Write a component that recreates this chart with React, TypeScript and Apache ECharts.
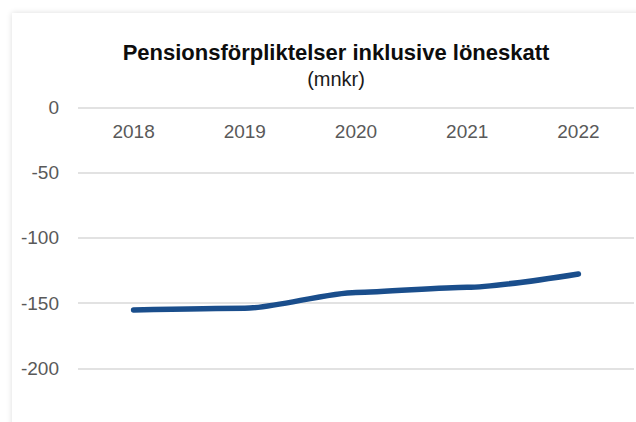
import React, { useEffect, useRef } from "react";
import * as echarts from "echarts";

const years = ["2018", "2019", "2020", "2021", "2022"];
const pensionValues = [-155.3, -154, -141.8, -137.9, -127.7];
const yMin = -250;
const yMax = 0;
const yStep = 50;
const titleText = "Pensionsförpliktelser inklusive löneskatt";
const subtitleText = "(mnkr)";

export default function App() {
  const ref = useRef<HTMLDivElement>(null);
  useEffect(() => {
    if (!ref.current) return;
    const chart = echarts.init(ref.current, null, { renderer: "svg" });
    chart.setOption({
      animation: false,
      backgroundColor: "transparent",
      title: [
        {
          text: titleText,
          left: 331,
          top: 36,
          textAlign: "center",
          textStyle: {
            fontFamily: "Liberation Sans",
            fontSize: 22,
            fontWeight: "bold",
            color: "#0d0d0d",
            lineHeight: 22,
          },
        },
        {
          text: subtitleText,
          left: 331,
          top: 64,
          textAlign: "center",
          textStyle: {
            fontFamily: "Liberation Sans",
            fontSize: 20,
            fontWeight: "normal",
            color: "#1a1a1a",
            lineHeight: 20,
          },
        },
      ],
      grid: { left: 78, right: 2, top: 107.3, height: 326.3, outerBoundsMode: "none", containLabel: false },
      xAxis: {
        type: "category",
        data: years,
        position: "top",
        boundaryGap: true,
        axisLine: { show: false, onZero: false },
        axisTick: { show: false },
        axisLabel: {
          inside: true,
          margin: 15,
          fontFamily: "Liberation Sans",
          fontSize: 19,
          color: "#595959",
        },
      },
      yAxis: {
        type: "value",
        min: yMin,
        max: yMax,
        interval: yStep,
        axisLine: { show: false },
        axisTick: { show: false },
        axisLabel: {
          margin: 19,
          showMinLabel: false,
          fontFamily: "Liberation Sans",
          fontSize: 19,
          color: "#595959",
        },
        splitLine: { lineStyle: { color: "#d9d9d9", width: 1.5 } },
      },
      series: [
        {
          type: "line",
          data: pensionValues,
          symbol: "none",
          smooth: 0.25,
          smoothMonotone: "x",
          lineStyle: { color: "#1a4e8c", width: 5.5, cap: "round", join: "round" },
        },
      ],
    });
    return () => chart.dispose();
  }, []);
  return (
    <div style={{ position: "fixed", left: 0, top: 0, width: 636, height: 422, background: "#fff", overflow: "hidden" }}>
      <div
        style={{
          position: "absolute",
          left: 12,
          top: 13,
          width: 700,
          height: 500,
          background: "#fff",
          boxShadow: "0 0 6px rgba(0,0,0,0.14)",
        }}
      />
      <div ref={ref} style={{ position: "absolute", left: 0, top: 0, width: 636, height: 422 }} />
    </div>
  );
}
